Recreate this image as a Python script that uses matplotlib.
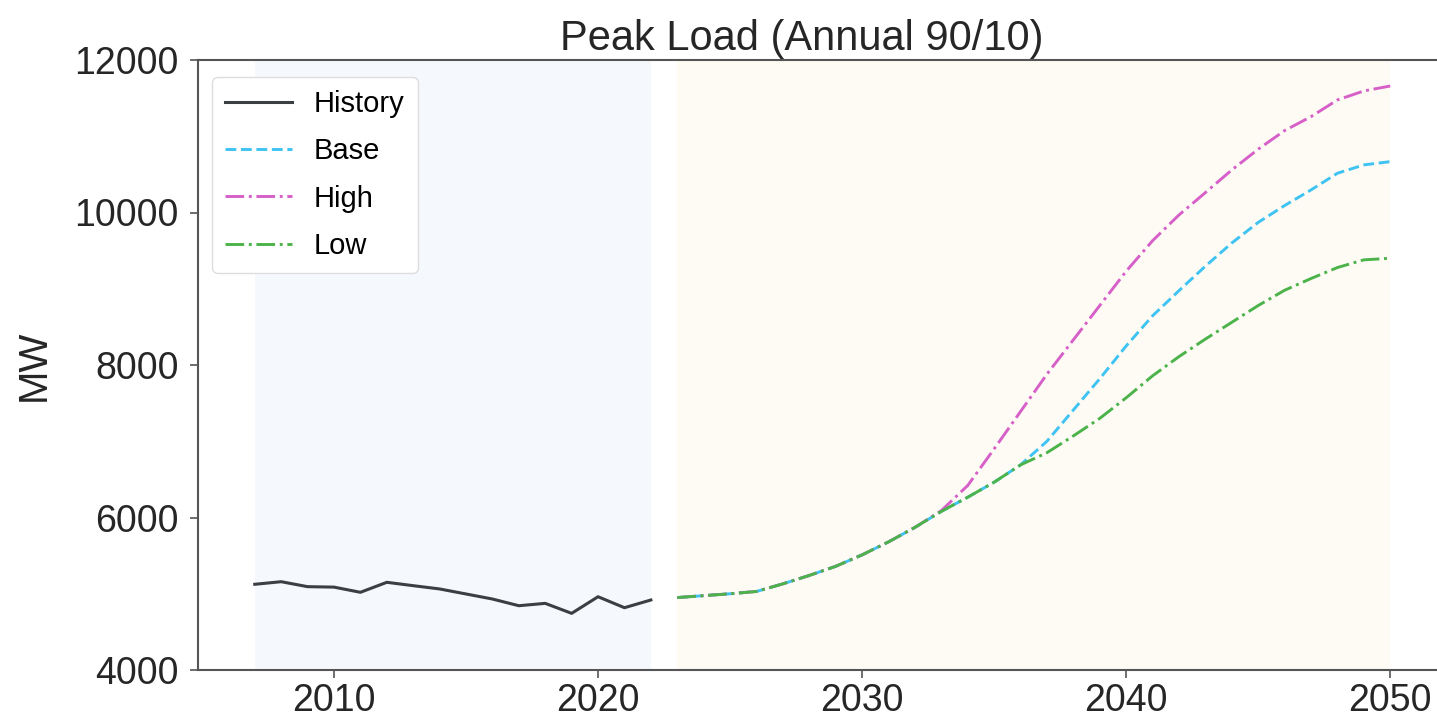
import matplotlib
matplotlib.use("Agg")
import matplotlib.pyplot as plt

plt.rcParams['font.family'] = ['Liberation Sans', 'DejaVu Sans']

# History (actuals)
hist_years = list(range(2007, 2023))
history = [5124, 5158, 5093, 5087, 5019, 5150, 5106, 5063, 4997, 4931,
           4843, 4874, 4743, 4961, 4817, 4918]

# Forecast scenarios
fc_years = list(range(2023, 2051))
base = [4950, 4975, 5000, 5030, 5130, 5240, 5360, 5510, 5680, 5870,
        6080, 6266, 6463, 6690, 7000, 7410, 7820, 8250, 8645, 8975,
        9296, 9600, 9870, 10091, 10296, 10515, 10624, 10667]
high = [4950, 4975, 5000, 5030, 5130, 5240, 5360, 5510, 5680, 5870,
        6090, 6420, 6900, 7390, 7880, 8330, 8780, 9230, 9630, 9968,
        10261, 10558, 10830, 11074, 11257, 11476, 11594, 11659]
low = [4950, 4975, 5000, 5030, 5130, 5240, 5360, 5510, 5680, 5870,
       6080, 6266, 6463, 6690, 6850, 7070, 7300, 7570, 7858, 8110,
       8340, 8560, 8780, 8980, 9134, 9278, 9379, 9400]

fig = plt.figure(figsize=(14.37, 7.23), dpi=100)
# axes runs a little past the right edge, like the cropped original
ax = fig.add_axes([198 / 1437, 53 / 723, 1249 / 1437, 610 / 723])

# shaded periods
ax.axvspan(hist_years[0], hist_years[-1], color='#f5f9fe', lw=0, zorder=0)
ax.axvspan(fc_years[0], fc_years[-1], color='#fefbf5', lw=0, zorder=0)

h_hist, = ax.plot(hist_years, history, color='#3b3f42', lw=2.2, label='History')
h_base, = ax.plot(fc_years, base, color='#3ec3f2', lw=2.1, ls='--', label='Base')
h_high, = ax.plot(fc_years, high, color='#d660c8', lw=2.1, ls='-.', label='High')
h_low, = ax.plot(fc_years, low, color='#4cb34a', lw=2.1, ls='-.', label='Low')

ax.set_ylim(4000, 12000)
ax.set_yticks([4000, 6000, 8000, 10000, 12000])
ax.set_xticks([2010, 2020, 2030, 2040, 2050])
ax.margins(x=0.05)

for side in ['left', 'bottom', 'top', 'right']:
    ax.spines[side].set_color('#555555')
    ax.spines[side].set_linewidth(1.5)

ax.tick_params(axis='both', labelsize=27, colors='#555555', labelcolor='#262626',
               length=6, width=1.2)
ax.tick_params(axis='y', pad=8)

ax.set_ylabel('MW', fontsize=29, color='#262626')
ax.yaxis.set_label_coords(-0.116, 0.5)
ax.set_title('Peak Load (Annual 90/10)', fontsize=30, color='#262626',
             x=0.4836, pad=7)

leg = ax.legend(handles=[h_hist, h_base, h_high, h_low], loc='upper left',
                bbox_to_anchor=(0.0112, 0.972), borderaxespad=0,
                fontsize=21, handlelength=2.3, handletextpad=0.75,
                labelspacing=0.66, borderpad=0.45, frameon=True, fancybox=True)
leg.get_frame().set_edgecolor('#dddddd')
leg.get_frame().set_facecolor('white')
leg.get_frame().set_alpha(1.0)

fig.savefig('out.png', dpi=100)
